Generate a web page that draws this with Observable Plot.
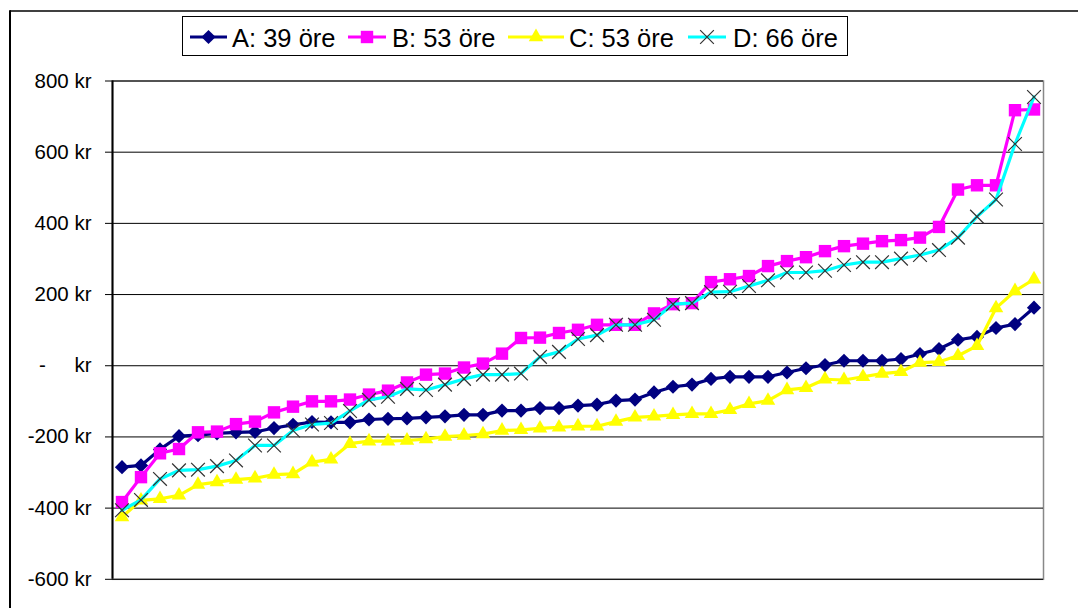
<!DOCTYPE html>
<html><head><meta charset="utf-8">
<script src="https://cdn.jsdelivr.net/npm/d3@7"></script>
<script src="https://cdn.jsdelivr.net/npm/@observablehq/plot@0.6"></script>
<style>
body{margin:0;background:#fff;font-family:"Liberation Sans",Arial,sans-serif;}
#wrap{position:relative;width:1078px;height:608px;overflow:hidden;background:#fff;}
#chart{position:absolute;left:0;top:0;}
#overlay{position:absolute;left:0;top:0;}
</style></head><body>
<div id="wrap"><div id="chart"></div><svg id="overlay" width="1078" height="608"></svg></div>
<script>
const seriesNames = ["A: 39 öre", "B: 53 öre", "C: 53 öre", "D: 66 öre"];
const valuesA = [-285,-280,-235,-198,-195,-190,-187,-186,-175,-166,-158,-159,-159,-151,-149,-148,-145,-142,-138,-138,-126,-126,-119,-119,-112,-109,-98,-95,-75,-59,-53,-37,-31,-31,-31,-19,-7,2,14,14,14,19,33,47,73,81,106,117,163];
const valuesB = [-383,-313,-246,-234,-187,-185,-164,-157,-131,-115,-100,-100,-95,-81,-70,-47,-25,-22,-5,6,34,78,79,92,101,115,115,115,147,173,176,235,243,252,280,294,305,322,336,343,350,353,360,390,495,507,507,718,720];
const valuesC = [-425,-378,-374,-364,-334,-327,-320,-316,-306,-304,-271,-263,-219,-212,-212,-210,-206,-199,-196,-192,-182,-180,-176,-173,-170,-170,-157,-145,-142,-138,-135,-135,-124,-107,-98,-68,-62,-38,-40,-31,-22,-17,9,11,28,56,162,210,243];
const valuesD = [-406,-377,-318,-294,-292,-282,-266,-224,-224,-182,-165,-161,-127,-96,-87,-65,-68,-53,-37,-25,-25,-22,25,39,75,86,115,115,129,173,176,207,208,224,240,262,262,267,283,291,291,301,311,325,360,419,467,623,755];
const yTicks = [-600,-400,-200,0,200,400,600,800];

const styles = [
  {line:"#000080", symbol:"diamond2", fill:"#000080", stroke:"none", r:6.4},
  {line:"#FF00FF", symbol:"square", fill:"#FF00FF", stroke:"none", r:7.0},
  {line:"#FFFF00", symbol:"triangle", fill:"#FFFF00", stroke:"none", r:5.4},
  {line:"#00FFFF", symbol:"times", fill:"none", stroke:"#333", r:6.3}
];
const allValues = [valuesA, valuesB, valuesC, valuesD];
const n = valuesA.length;

const marks = [
  Plot.frame({stroke:"#888", strokeWidth:1.5}),
  Plot.gridY(yTicks, {stroke:"#000", strokeOpacity:1, strokeWidth:1}),
  Plot.axisY(yTicks, {tickSize:7, tickPadding:14, label:null, tickFormat: d => d === 0 ? "kr" : `${d} kr`, stroke:"#000"}),
  Plot.text([0], {y: d => d, frameAnchor:"left", dx:-70, text: () => "-", textAnchor:"middle", fontSize:20.5})
];
allValues.forEach((vals, k) => {
  const s = styles[k];
  const rows = vals.map((v, i) => ({i, v}));
  marks.push(Plot.line(rows, {x:"i", y:"v", stroke:s.line, strokeWidth:3.2}));
  if (s.symbol === "times")
    marks.push(Plot.dot(rows, {x:"i", y:"v", symbol:"times", stroke:s.stroke, strokeWidth:1.2, r:s.r}));
  else
    marks.push(Plot.dot(rows, {x:"i", y:"v", symbol:s.symbol, fill:s.fill, stroke:"none", r:s.r}));
});
marks.push(Plot.ruleX([-0.5], {stroke:"#000", strokeWidth:2}));

const chart = Plot.plot({
  width:1078, height:608,
  marginLeft:112, marginRight:35, marginTop:80.5, marginBottom:29.2,
  x:{domain:[-0.5, n-0.5], axis:null},
  y:{domain:[-600, 800], axis:null},
  style:{fontFamily:'"Liberation Sans", Arial, sans-serif', fontSize:"20.5px", color:"#000", background:"transparent", overflow:"visible"},
  marks
});
document.getElementById("chart").appendChild(chart);

// Outer chart border + legend
const ov = d3.select("#overlay");
ov.append("line").attr("x1",10).attr("x2",1078).attr("y1",11).attr("y2",11).attr("stroke","#000").attr("stroke-width",1.5);
ov.append("line").attr("x1",10).attr("x2",10).attr("y1",10.3).attr("y2",608).attr("stroke","#000").attr("stroke-width",2);
ov.append("rect").attr("x",182.5).attr("y",16.5).attr("width",665).attr("height",39).attr("fill","#fff").attr("stroke","#000").attr("stroke-width",1);
const items = [
  {x0:190, x1:227, tx:232},
  {x0:348, x1:386, tx:392},
  {x0:508, x1:564, tx:569},
  {x0:688, x1:726, tx:733}
];
const symMap = {diamond2:d3.symbolDiamond2, square:d3.symbolSquare, triangle:d3.symbolTriangle, times:d3.symbolTimes};
items.forEach((it, k) => {
  const s = styles[k];
  const ly = 37;
  ov.append("line").attr("x1",it.x0).attr("x2",it.x1).attr("y1",ly).attr("y2",ly).attr("stroke",s.line).attr("stroke-width",3);
  const path = d3.symbol(symMap[s.symbol], Math.PI*s.r*s.r)();
  ov.append("path").attr("d",path).attr("transform",`translate(${(it.x0+it.x1)/2},${ly})`)
    .attr("fill", s.fill).attr("stroke", s.symbol==="times" ? s.stroke : "none").attr("stroke-width",1.2);
  ov.append("text").attr("x",it.tx).attr("y",46.5).attr("font-size","25.5px").attr("font-family",'"Liberation Sans", Arial, sans-serif').attr("fill","#000").text(seriesNames[k]);
});
</script>
</body></html>
